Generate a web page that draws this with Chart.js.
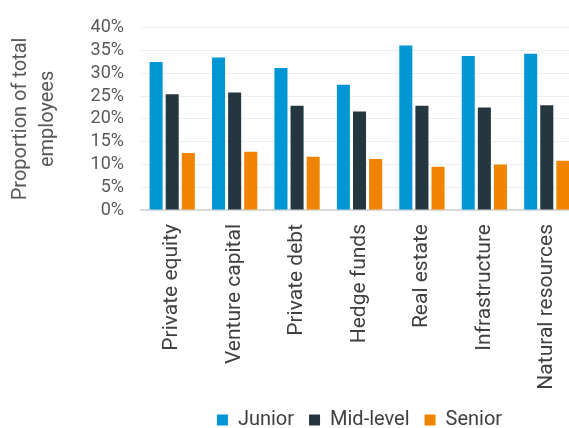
<!DOCTYPE html>
<html>
<head>
<meta charset="utf-8">
<script src="https://cdn.jsdelivr.net/npm/chart.js@4"></script>
<style>
    html, body { margin: 0; padding: 0; overflow: hidden; background: #ffffff; }
    #wrap { width: 569px; height: 428px; overflow: hidden; }
</style>
</head>
<body>
<div id="wrap"><canvas id="staffChart" width="578" height="440"></canvas></div>
<script>
// Data
const categories = ['Private equity', 'Venture capital', 'Private debt', 'Hedge funds', 'Real estate', 'Infrastructure', 'Natural resources'];
const juniorValues = [32.5, 33.5, 31.2, 27.5, 36.1, 33.8, 34.3];
const midLevelValues = [25.4, 25.8, 22.9, 21.6, 22.9, 22.5, 23.0];
const seniorValues = [12.5, 12.8, 11.7, 11.2, 9.5, 10.0, 10.8];
const seriesNames = ['Junior', 'Mid-level', 'Senior'];
const yTicks = [0, 5, 10, 15, 20, 25, 30, 35, 40];

const FONT = 'Roboto, "DejaVu Sans", sans-serif';

function buildStaffChart() {
    const ctx = document.getElementById('staffChart').getContext('2d');

    const bar = (label, data, color) => ({
        label: label,
        data: data,
        backgroundColor: color,
        borderWidth: 0,
        categoryPercentage: 0.774,
        barPercentage: 0.81
    });

    return new Chart(ctx, {
        type: 'bar',
        data: {
            labels: categories,
            datasets: [
                bar(seriesNames[0], juniorValues, '#0096d6'),
                bar(seriesNames[1], midLevelValues, '#24363e'),
                bar(seriesNames[2], seniorValues, '#f08300')
            ]
        },
        options: {
            responsive: false,
            animation: false,
            layout: { padding: { top: 15, left: 0, right: 0, bottom: 0 } },
            plugins: {
                tooltip: { enabled: false },
                legend: {
                    position: 'bottom',
                    fullSize: false,
                    labels: {
                        color: '#404040',
                        font: { family: FONT, size: 20 },
                        boxWidth: 11,
                        boxHeight: 11,
                        padding: 15
                    }
                }
            },
            scales: {
                x: {
                    grid: { display: false },
                    border: { display: true, color: '#d9d9d9', width: 2 },
                    ticks: {
                        color: '#404040',
                        font: { family: FONT, size: 21 },
                        minRotation: 90,
                        maxRotation: 90,
                        autoSkip: false,
                        padding: 6
                    },
                    afterFit: (scale) => { scale.height = 185; }
                },
                y: {
                    min: 0,
                    max: 40,
                    afterBuildTicks: (scale) => { scale.ticks = yTicks.map(v => ({ value: v })); },
                    grid: { color: '#eeeeee', lineWidth: 1, drawTicks: false },
                    border: { display: false },
                    ticks: {
                        color: '#595959',
                        font: { family: FONT, size: 18 },
                        padding: 17,
                        autoSkip: false,
                        callback: (v) => v + '%'
                    },
                    title: {
                        display: true,
                        text: ['Proportion of total', 'employees'],
                        color: '#595959',
                        font: { family: FONT, size: 20, lineHeight: 1.35 },
                        padding: { top: 7, bottom: 0 }
                    },
                    afterFit: (scale) => { scale.width = 141; }
                }
            }
        }
    });
}

window.staffChart = buildStaffChart();
</script>
</body>
</html>
